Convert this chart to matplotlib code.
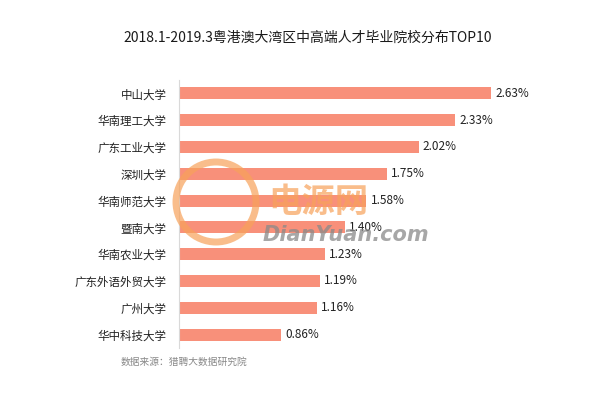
import matplotlib
matplotlib.use("Agg")
import matplotlib.pyplot as plt
from matplotlib.patches import Ellipse

plt.rcParams['font.family'] = ['Noto Sans CJK SC', 'DejaVu Sans']

schools = ["中山大学", "华南理工大学", "广东工业大学", "深圳大学", "华南师范大学",
           "暨南大学", "华南农业大学", "广东外语外贸大学", "广州大学", "华中科技大学"]
values = [2.63, 2.33, 2.02, 1.75, 1.58, 1.40, 1.23, 1.19, 1.16, 0.86]
title = "2018.1-2019.3粤港澳大湾区中高端人才毕业院校分布TOP10"
source = "数据来源：猎聘大数据研究院"

W, H = 600, 416
fig = plt.figure(figsize=(W/100, H/100), dpi=100)
fig.patch.set_facecolor("white")
ax = fig.add_axes([179/W, 1-348/H, 415/W, 268/H])

ypos = list(range(len(schools)))
ax.barh(ypos, values, height=0.45, color="#F8907A", zorder=2)
for y, v in zip(ypos, values):
    ax.text(v + 0.035, y, f"{v:.2f}%", va="center", ha="left", fontsize=8.5, color="#222222", zorder=3)

ax.set_ylim(len(schools) - 0.5, -0.5)
ax.set_xlim(0, 3.5)
ax.set_yticks(ypos)
ax.set_yticklabels(schools, fontsize=8.3, color="#222222")
ax.tick_params(axis="y", length=0, pad=9)
ax.set_xticks([])
for s in ["top", "right", "bottom"]:
    ax.spines[s].set_visible(False)
ax.spines["left"].set_color("#D9D9D9")
ax.spines["left"].set_linewidth(0.8)

fig.text(308/W, 1-38/H, title, ha="center", va="center", fontsize=10, color="#1a1a1a")
fig.text(121/W, 1-362/H, source, ha="left", va="center", fontsize=7, color="#888888")

# watermark (image overlay in the reference)
fig.patches.append(Ellipse((216/W, 1-202/H), 80/W, 80/H, transform=fig.transFigure,
                           fill=False, edgecolor="#F7A25A", linewidth=5, alpha=0.7, zorder=5))
fig.text(268/W, 1-202/H, "电源网", ha="left", va="center", fontsize=24, fontweight="bold",
         style="italic", color="#F7A25A", alpha=0.7, zorder=5)
fig.text(263/W, 1-235/H, "DianYuan.com", ha="left", va="center", fontsize=15, fontweight="bold",
         style="italic", color="#8a8a8a", alpha=0.75, family="DejaVu Sans", zorder=5)

fig.savefig("out.png", dpi=100, facecolor="white")
